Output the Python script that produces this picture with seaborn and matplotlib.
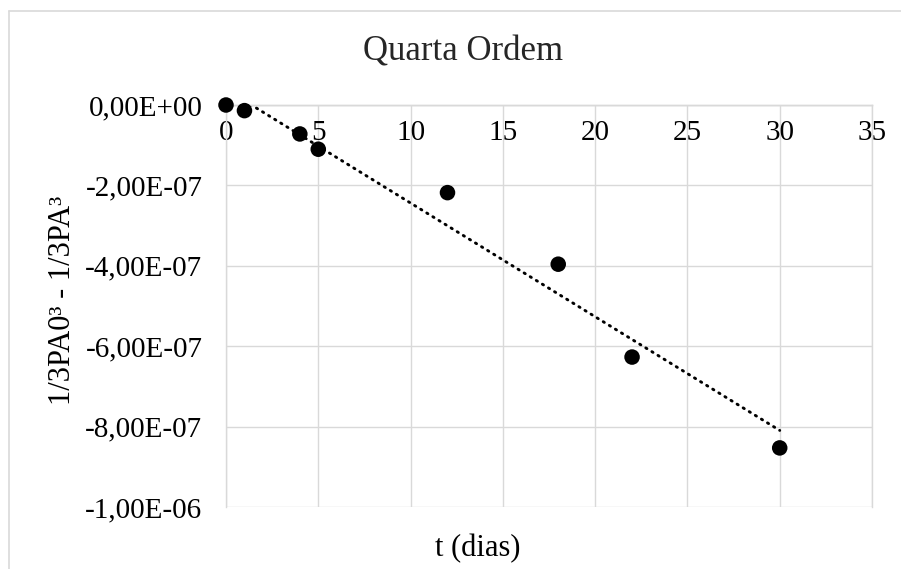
import numpy as np
import pandas as pd
import matplotlib
matplotlib.use("Agg")
import matplotlib.pyplot as plt
from matplotlib.lines import Line2D
from matplotlib.ticker import FuncFormatter
import seaborn as sns

# Experimental data: time (days) vs 1/3PA0^3 - 1/3PA^3
t_dias = [0, 1, 4, 5, 12, 18, 22, 30]
valores = [0.0, -1.4e-8, -7.2e-8, -11.0e-8, -21.8e-8, -39.6e-8, -62.7e-8, -85.3e-8]

x_ticks = [0, 5, 10, 15, 20, 25, 30, 35]
y_ticks = [-1.0e-6, -8.0e-7, -6.0e-7, -4.0e-7, -2.0e-7, 0.0]

titulo = "Quarta Ordem"
rotulo_x = "t (dias)"
rotulo_y = "1/3PA0³ - 1/3PA³"

df = pd.DataFrame({"t": t_dias, "y": valores})

sns.set_theme(style="white")
plt.rcParams["font.family"] = ["Liberation Serif", "DejaVu Serif"]

grid_color = "#d9d9d9"

fig = plt.figure(figsize=(9.01, 5.69), dpi=100)
ax = fig.add_axes([226 / 901, 1 - 507 / 569, (872 - 226) / 901, (507 - 105) / 569])

# linear trendline (dotted), computed by seaborn
sns.regplot(data=df, x="t", y="y", ax=ax, scatter=False, ci=None, truncate=True,
            line_kws=dict(color="black", lw=2.1, linestyle=(0, (0.45, 2.0)),
                          dash_capstyle="round"))
# data points
sns.scatterplot(data=df, x="t", y="y", ax=ax, color="black", s=125,
                edgecolor="none", clip_on=False, zorder=5)

ax.set_xlim(0, 35)
ax.set_ylim(-1.0e-6, 0.0)
ax.set_xticks(x_ticks)
ax.set_yticks(y_ticks)
ax.yaxis.set_major_formatter(FuncFormatter(lambda v, p: f"{0.0 if v == 0 else v:.2E}".replace(".", ",")))
ax.xaxis.set_major_formatter(FuncFormatter(lambda v, p: f"{v:g}"))

ax.grid(True, color=grid_color, lw=1.0)
ax.set_axisbelow(True)
for side in ["left", "right", "top", "bottom"]:
    ax.spines[side].set_color(grid_color)
    ax.spines[side].set_linewidth(1.0)

# x axis crosses at y = 0, labels just below it
ax.spines["bottom"].set_position(("data", 0.0))
ax.spines["bottom"].set_zorder(1)
ax.tick_params(axis="x", length=0, pad=11, labelsize=21, colors="black")
ax.tick_params(axis="y", length=0, pad=17, labelsize=21, colors="black")

ax.set_xlabel(rotulo_x, fontsize=22, color="black")
ax.xaxis.set_label_coords(0.389, -0.068)
ax.xaxis.label.set_va("top")
ax.set_ylabel(rotulo_y, fontsize=22, color="black")
ax.yaxis.set_label_coords(-0.231, 0.515)

fig.text(463 / 901, 1 - 52 / 569, titulo, fontsize=25, ha="center", va="center")

# chart area frame
fig.add_artist(Line2D([9 / 901, 1.0], [1 - 11 / 569, 1 - 11 / 569], color=grid_color, lw=1.2,
                      transform=fig.transFigure))
fig.add_artist(Line2D([9 / 901, 9 / 901], [0.0, 1 - 11 / 569], color=grid_color, lw=1.2,
                      transform=fig.transFigure))

fig.savefig("out.png", dpi=100, facecolor="white")
